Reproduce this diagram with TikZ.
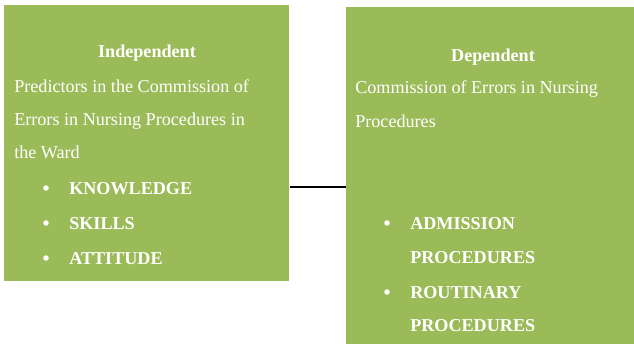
\documentclass[tikz,border=0pt]{standalone}
\usepackage{fontspec}
\setmainfont{Liberation Serif}
\newlength{\du}
\setlength{\du}{0.75pt}
\definecolor{boxgreen}{HTML}{9BBB59}
\tikzset{
  varbox/.style={fill=boxgreen, draw=none, inner sep=0pt, anchor=north west},
  plainline/.style={text=white, inner sep=0pt, anchor=base west, font=\fontsize{13.6}{16}\selectfont},
  headline/.style={plainline, anchor=base, font=\fontsize{13.6}{16}\selectfont\bfseries},
  itemline/.style={plainline, font=\fontsize{13.6}{16}\selectfont\bfseries},
  dotmark/.style={circle, fill=white, draw=none, inner sep=0pt, minimum size=5.5\du},
}
\begin{document}
\begin{tikzpicture}[yscale=-1]
\useasboundingbox (0\du,0\du) rectangle (634\du,346\du);
% left box
\node[varbox, minimum width=285\du, minimum height=276\du] (indep) at (4\du,5\du) {};
\node[headline] (indephead) at (147\du,58\du) {Independent};
\node[plainline] (indepa) at (14\du,92\du) {Predictors in the Commission of};
\node[plainline] (indepb) at (14\du,125\du) {Errors in Nursing Procedures in};
\node[plainline] (indepc) at (14\du,158\du) {the Ward};
\node[dotmark] at (46\du,188\du) {};
\node[itemline] (knowledge) at (69\du,194\du) {KNOWLEDGE};
\node[dotmark] at (46\du,223\du) {};
\node[itemline] (skills) at (69\du,229\du) {SKILLS};
\node[dotmark] at (46\du,258\du) {};
\node[itemline] (attitude) at (69\du,264\du) {ATTITUDE};
% right box
\node[varbox, minimum width=288\du, minimum height=337\du] (dep) at (346\du,7\du) {};
\node[headline] (dephead) at (493\du,61\du) {Dependent};
\node[plainline] (depa) at (355\du,93\du) {Commission of Errors in Nursing};
\node[plainline] (depb) at (355\du,127\du) {Procedures};
\node[dotmark] at (387\du,223\du) {};
\node[itemline] (admission) at (410\du,229\du) {ADMISSION};
\node[itemline] (admissionb) at (410\du,263\du) {PROCEDURES};
\node[dotmark] at (387\du,292\du) {};
\node[itemline] (routinary) at (410\du,298\du) {ROUTINARY};
\node[itemline] (routinaryb) at (410\du,331\du) {PROCEDURES};
% link
\coordinate (linkmid) at (0\du,187\du);
\draw[line width=1.3\du] (indep.east |- linkmid) -- (dep.west |- linkmid);
\end{tikzpicture}
\end{document}
